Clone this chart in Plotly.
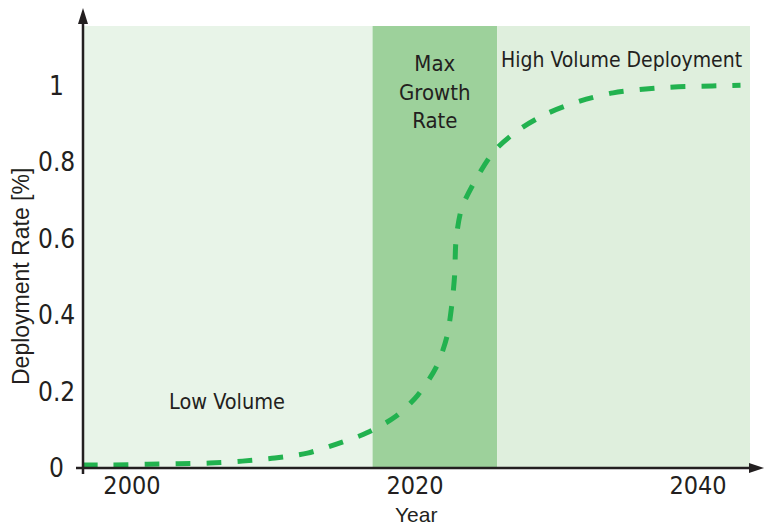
import plotly.graph_objects as go

# ---- data ----
years = [1996.5, 1998.7, 2001.1, 2003.3, 2005.5, 2007.8, 2010.1, 2012.4, 2014.5,
         2016.6, 2018.6, 2020.2, 2021.5, 2022.25, 2022.6, 2022.8, 2022.9, 2023.3,
         2024.4, 2025.65, 2027.4, 2029.4, 2031.7, 2034.0, 2036.3, 2038.6, 2041.0, 2043.0]
deployment = [0.008, 0.008, 0.010, 0.011, 0.013, 0.018, 0.026, 0.039, 0.063,
              0.092, 0.134, 0.191, 0.264, 0.343, 0.427, 0.505, 0.597, 0.680,
              0.762, 0.832, 0.887, 0.929, 0.961, 0.982, 0.992, 0.998, 1.000, 1.002]
phase_edges = [2017.0, 2025.8]
phase_labels = ["Low Volume", "Max<br>Growth<br>Rate", "High Volume Deployment"]
x_ticks = [2000, 2020, 2040]
y_ticks = [0, 0.2, 0.4, 0.6, 0.8, 1]
y_tick_text = ["0", "0.2", "0.4", "0.6", "0.8", "1"]

X_RANGE = [1996.54, 2043.67]
Y_RANGE = [0, 1.157]

W, H = 767, 527
ML, MR, MT, MB = 83, 17, 26, 59
PW, PH = W - ML - MR, H - MT - MB

INK = "#231f20"
NARROW = "Liberation Sans Narrow, DejaVu Sans Condensed, Roboto, sans-serif"
REG = "Liberation Sans, Arial, sans-serif"

fig = go.Figure()
fig.add_trace(go.Scatter(
    x=years, y=deployment, mode="lines",
    line=dict(color="#22b24f", width=5, dash="15px,16px", shape="spline", smoothing=0.8),
    hoverinfo="skip", showlegend=False,
))

shapes = []
bg_cols = ["#e8f4e8", "#9dd19b", "#dfefdd"]
edges = [X_RANGE[0]] + phase_edges + [X_RANGE[1]]
for i in range(3):
    shapes.append(dict(type="rect", xref="x", yref="paper", x0=edges[i], x1=edges[i + 1],
                       y0=0, y1=1, fillcolor=bg_cols[i], line=dict(width=0), layer="below"))

# axis lines
shapes.append(dict(type="line", xref="paper", yref="paper", x0=0, x1=0,
                   y0=-6 / PH, y1=1 + 6 / PH, line=dict(color=INK, width=2.5), layer="above"))
shapes.append(dict(type="line", xref="paper", yref="paper", x0=-7 / PW, x1=1 + 2 / PW,
                   y0=0, y1=0, line=dict(color=INK, width=2.5), layer="above"))
# arrowheads
shapes.append(dict(type="path", xref="paper", yref="paper", xsizemode="pixel", ysizemode="pixel",
                   xanchor=0, yanchor=1 + 18 / PH, path="M-5,-16L5,-16L0,0Z",
                   fillcolor=INK, line=dict(width=0), layer="above"))
shapes.append(dict(type="path", xref="paper", yref="paper", xsizemode="pixel", ysizemode="pixel",
                   xanchor=1 + 14 / PW, yanchor=0, path="M-15,-5L-15,5L0,0Z",
                   fillcolor=INK, line=dict(width=0), layer="above"))

annotations = []
for v, t in zip(y_ticks, y_tick_text):
    annotations.append(dict(xref="paper", yref="y", x=-27 / PW, y=v, text=t, showarrow=False,
                            xanchor="center", yanchor="middle",
                            font=dict(family=NARROW, size=26, color=INK)))

mid_band = (phase_edges[0] + phase_edges[1]) / 2
annotations.append(dict(xref="x", yref="y", x=2006.7, y=0.173, text=phase_labels[0],
                        showarrow=False, font=dict(family=NARROW, size=21.5, color=INK)))
annotations.append(dict(xref="x", yref="y", x=mid_band, y=0.985, text=phase_labels[1],
                        showarrow=False, align="center",
                        font=dict(family=NARROW, size=22, color=INK)))
annotations.append(dict(xref="x", yref="y", x=2034.6, y=1.068, text=phase_labels[2],
                        showarrow=False, font=dict(family=NARROW, size=21, color=INK)))
annotations.append(dict(xref="paper", yref="paper", x=(21 - ML) / PW, y=(PH - (277 - MT)) / PH,
                        text="Deployment Rate [%]", textangle=-90, showarrow=False,
                        xanchor="center", yanchor="middle",
                        font=dict(family=REG, size=23, color=INK)))
annotations.append(dict(xref="paper", yref="paper", x=(416 - ML) / PW, y=-(514 - MT - PH) / PH,
                        text="Year", showarrow=False, xanchor="center", yanchor="middle",
                        font=dict(family=REG, size=21, color=INK)))

fig.update_layout(
    width=W, height=H,
    margin=dict(l=ML, r=MR, t=MT, b=MB),
    paper_bgcolor="white", plot_bgcolor="rgba(0,0,0,0)",
    shapes=shapes, annotations=annotations,
    xaxis=dict(range=X_RANGE, tickvals=x_ticks, ticktext=[str(v) for v in x_ticks],
               showgrid=False, zeroline=False, showline=False, ticks="",
               tickfont=dict(family=NARROW, size=25, color=INK), fixedrange=True),
    yaxis=dict(range=Y_RANGE, tickvals=y_ticks, showticklabels=False,
               showgrid=False, zeroline=False, showline=False, ticks="", fixedrange=True),
)

fig.write_html("out.html", config={"displayModeBar": False},
               post_script="document.body.style.margin='0';document.body.style.overflow='hidden';")
